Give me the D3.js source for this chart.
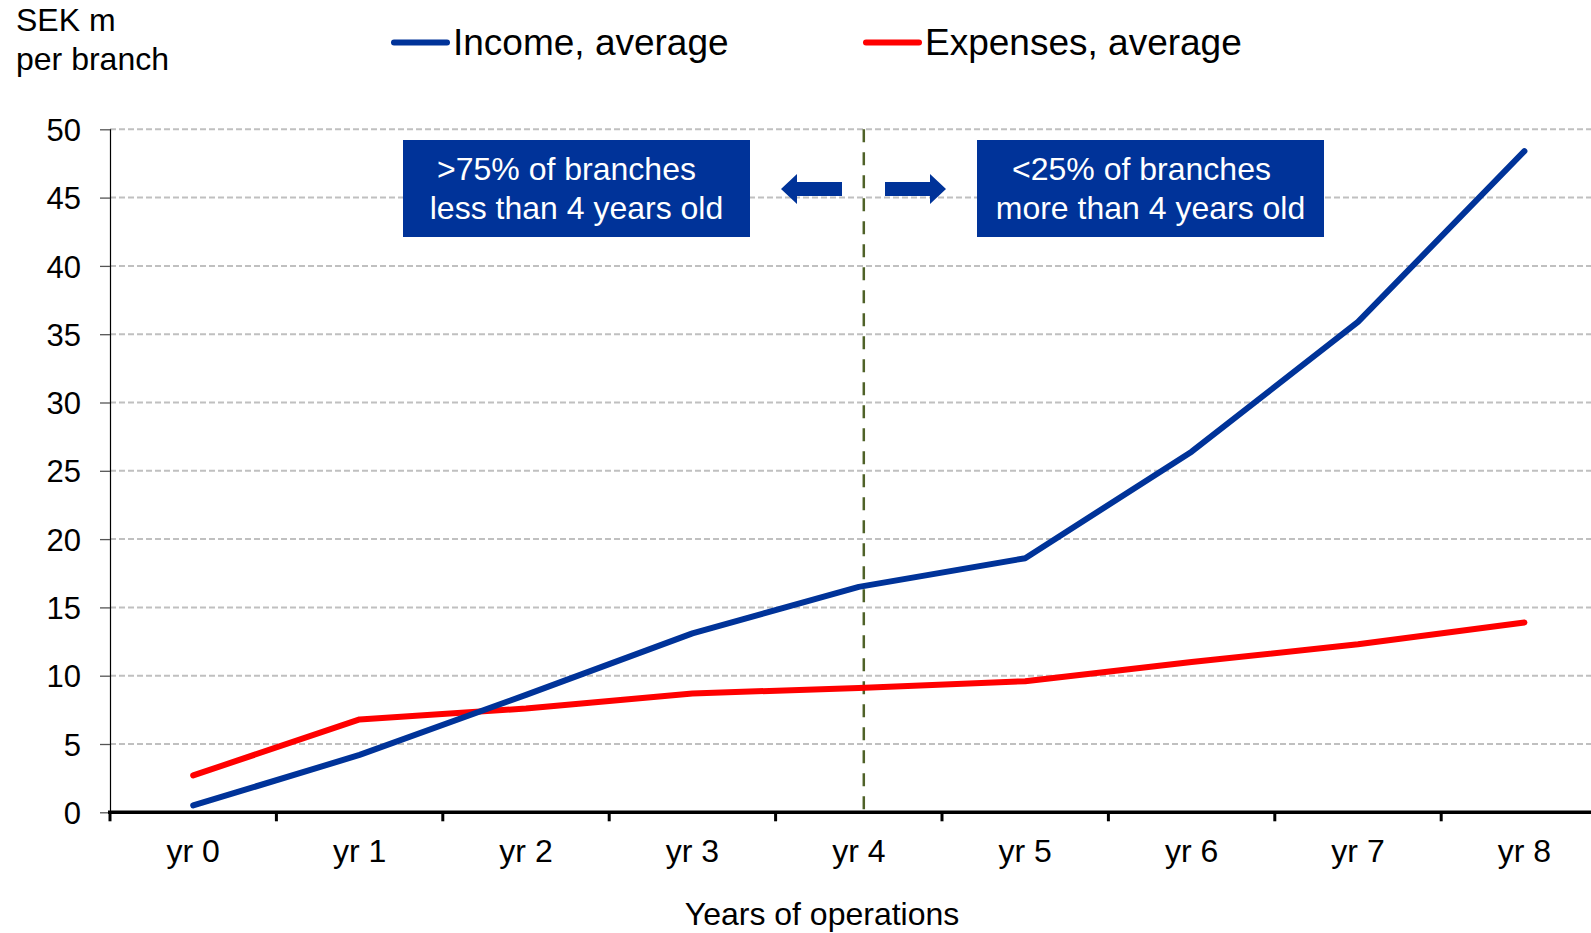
<!DOCTYPE html>
<html>
<head>
<meta charset="utf-8">
<script src="https://cdn.jsdelivr.net/npm/d3@7"></script>
<style>
  html, body { margin: 0; padding: 0; background: #ffffff; }
  svg { display: block; font-family: "Liberation Sans", Arial, sans-serif; }
</style>
</head>
<body>
<svg id="chart" width="1591" height="933"></svg>
<script>
// Average income and expenses per branch by years of operation (SEK m)
const years = ["yr 0", "yr 1", "yr 2", "yr 3", "yr 4", "yr 5", "yr 6", "yr 7", "yr 8"];
const income = [0.5, 4.2, 8.6, 13.1, 16.5, 18.6, 26.4, 35.9, 48.4];
const expenses = [2.7, 6.8, 7.6, 8.7, 9.1, 9.6, 11.0, 12.3, 13.9];
const yTicks = [0, 5, 10, 15, 20, 25, 30, 35, 40, 45, 50];
const seriesNames = ["Income, average", "Expenses, average"];
const boxTexts = [
  [">75% of branches", "less than 4 years old"],
  ["<25% of branches", "more than 4 years old"]
];

const BLUE = "#003399";
const RED = "#ff0000";

const svg = d3.select("#chart");
const W = 1591;

const x = d3.scaleBand().domain(years).range([110, 1607.6]).padding(0);
const cx = d => x(d) + x.bandwidth() / 2;
const y = d3.scaleLinear().domain([0, 50]).range([812.3, 129.3]);

// horizontal dashed grid
svg.append("g").selectAll("line")
  .data(yTicks.filter(v => v > 0))
  .join("line")
  .attr("x1", 110).attr("x2", W)
  .attr("y1", d => y(d)).attr("y2", d => y(d))
  .attr("stroke", "#c0c0c0").attr("stroke-width", 2)
  .attr("stroke-dasharray", "6,3");

// y axis
const yAxis = svg.append("g").attr("transform", "translate(110,0)")
  .call(d3.axisLeft(y).tickValues(yTicks).tickSize(10).tickPadding(19));
yAxis.select(".domain").attr("stroke", "#000").attr("stroke-width", 1.2)
  .attr("d", `M0.5,${y(50)}V${y(0)}`);
yAxis.selectAll(".tick line").attr("stroke", "#555").attr("stroke-width", 1.3);
yAxis.selectAll(".tick text").attr("font-size", 31).attr("fill", "#000")
  .attr("font-family", "Liberation Sans, Arial, sans-serif").attr("dy", "0.36em");

// x axis (category boundaries carry the ticks)
const xg = svg.append("g");
xg.append("line").attr("x1", 108).attr("x2", W)
  .attr("y1", y(0)).attr("y2", y(0))
  .attr("stroke", "#000").attr("stroke-width", 3.5);
xg.selectAll("line.tk").data(years.concat(["end"]))
  .join("line").attr("class", "tk")
  .attr("x1", (d, i) => 110 + i * x.bandwidth())
  .attr("x2", (d, i) => 110 + i * x.bandwidth())
  .attr("y1", y(0)).attr("y2", y(0) + 9)
  .attr("stroke", "#000").attr("stroke-width", 3);
xg.selectAll("text").data(years).join("text")
  .attr("x", d => cx(d)).attr("y", 862)
  .attr("text-anchor", "middle").attr("font-size", 32).attr("fill", "#000")
  .text(d => d);

// axis titles
svg.append("text").attr("x", 822).attr("y", 925).attr("text-anchor", "middle")
  .attr("font-size", 32).attr("fill", "#000").text("Years of operations");
svg.append("text").attr("x", 16).attr("y", 31).attr("font-size", 32)
  .attr("fill", "#000").text("SEK m");
svg.append("text").attr("x", 16).attr("y", 70).attr("font-size", 32)
  .attr("fill", "#000").text("per branch");

// divider at year 4
svg.append("line")
  .attr("x1", cx("yr 4") + 5).attr("x2", cx("yr 4") + 5)
  .attr("y1", y(50)).attr("y2", y(0))
  .attr("stroke", "#4f6228").attr("stroke-width", 2.5)
  .attr("stroke-dasharray", "13,10");

// annotation boxes
const boxes = [
  { x0: 403, x1: 750, dx: [-10, 0] },
  { x0: 977, x1: 1324, dx: [-9, 0] }
];
boxes.forEach((b, i) => {
  svg.append("rect").attr("x", b.x0).attr("y", 140)
    .attr("width", b.x1 - b.x0).attr("height", 97).attr("fill", BLUE);
  const mid = (b.x0 + b.x1) / 2;
  boxTexts[i].forEach((t, j) => {
    svg.append("text").attr("x", mid + b.dx[j]).attr("y", 180 + j * 39)
      .attr("text-anchor", "middle").attr("font-size", 32).attr("fill", "#fff").text(t);
  });
});

// arrows either side of the divider
svg.append("path").attr("fill", BLUE)
  .attr("d", "M781,189 L797,174 L797,182 L842,182 L842,196 L797,196 L797,204 Z");
svg.append("path").attr("fill", BLUE)
  .attr("d", "M946,189 L930,174 L930,182 L885,182 L885,196 L930,196 L930,204 Z");

// series lines
const line = d3.line().x((d, i) => cx(years[i])).y(d => y(d));
svg.append("path").datum(expenses).attr("d", line)
  .attr("fill", "none").attr("stroke", RED).attr("stroke-width", 6)
  .attr("stroke-linecap", "round").attr("stroke-linejoin", "round");
svg.append("path").datum(income).attr("d", line)
  .attr("fill", "none").attr("stroke", BLUE).attr("stroke-width", 6)
  .attr("stroke-linecap", "round").attr("stroke-linejoin", "round");

// legend
const legend = [
  { name: seriesNames[0], color: BLUE, x0: 394 },
  { name: seriesNames[1], color: RED, x0: 866 }
];
legend.forEach(l => {
  svg.append("line").attr("x1", l.x0).attr("x2", l.x0 + 53)
    .attr("y1", 42.5).attr("y2", 42.5)
    .attr("stroke", l.color).attr("stroke-width", 6).attr("stroke-linecap", "round");
  svg.append("text").attr("x", l.x0 + 59).attr("y", 55).attr("font-size", 37)
    .attr("fill", "#000").text(l.name);
});
</script>
</body>
</html>
